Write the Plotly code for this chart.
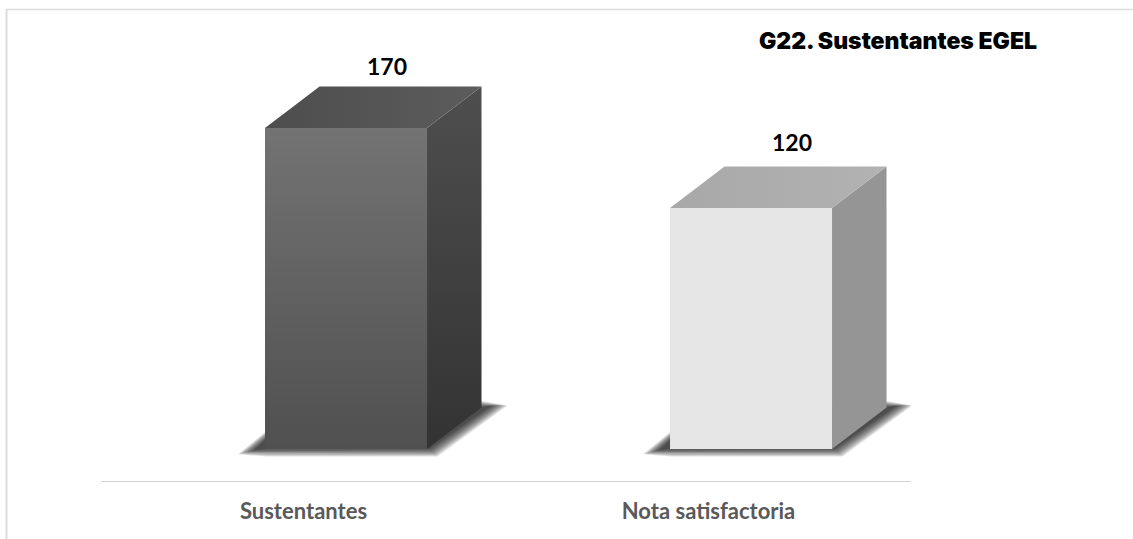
import plotly.graph_objects as go

categories = ["Sustentantes", "Nota satisfactoria"]
values = [170, 120]
title_text = "G22. Sustentantes EGEL"

W, H = 1133, 539
AX_L, AX_R, AX_BOT, AX_TOP = 101, 911, 481, 10
UX = 405.0        # px per category
UY = 1.6          # px per value unit
FLOOR = -30.6     # value at which the bars stand (perspective floor)
Y_MIN = -50.6
Y_MAX = 243.75
BAR_OFF = -0.095
BAR_W = 0.40
DX = 54.5 / UX    # depth of the 3D box
DY = 41.5 / UY
LABEL_GAP = [6, 10]

front_cols = [("#505050", "#737373"), ("#e6e6e6", "#e6e6e6")]
side_cols = [("#333333", "#4e4e4e"), ("#959595", "#959595")]
top_cols = [("#4d4d4d", "#5c5c5c"), ("#a8a8a8", "#b2b2b2")]
shadow_spread = [4.5, 3.5, 2.5, 1.5, 0.5, -0.5, -1.5, -2.5, -3.5]


def poly(x, y, col=None, grad=None, gtype="vertical"):
    kw = dict(x=x + x[:1], y=y + y[:1], mode="lines", fill="toself",
              line=dict(width=0), hoverinfo="skip", showlegend=False)
    if grad:
        kw["fillgradient"] = dict(type=gtype, colorscale=[[0, grad[0]], [1, grad[1]]])
        kw["fillcolor"] = grad[0]
    else:
        kw["fillcolor"] = col
    return go.Scatter(**kw)


fig = go.Figure()

fig.add_trace(go.Bar(
    x=list(range(len(values))), y=[v - FLOOR for v in values], base=FLOOR,
    width=BAR_W, offset=BAR_OFF,
    marker=dict(color=[c[1] for c in front_cols], line=dict(width=0)),
    hoverinfo="skip", showlegend=False))

for i, v in enumerate(values):
    x0 = i + BAR_OFF
    x1 = x0 + BAR_W
    # soft ground shadow: nested translucent shapes
    for g in shadow_spread:
        gx, gy = g / UX, g / UY
        sx = [x0 - 18 / UX - 2 * gx, x0 + 2 / UX, x1 + DX - 6 / UX,
              x1 + DX + 17 / UX + 2 * gx, x1 + 6 / UX + gx, x0 + 2 / UX]
        sy = [FLOOR - 3 / UY - 0.5 * gy, FLOOR + 14 / UY + gy, FLOOR + DY + 3 / UY + gy,
              FLOOR + DY + 2 / UY, FLOOR - 3 / UY - gy, FLOOR - 3 / UY - gy]
        fig.add_trace(poly(sx, sy, col="rgba(0,0,0,0.12)"))
    # front face gradient
    fig.add_trace(poly([x0, x1, x1, x0], [FLOOR, FLOOR, v, v], grad=front_cols[i]))
    # side face
    fig.add_trace(poly([x1, x1 + DX, x1 + DX, x1],
                       [FLOOR, FLOOR + DY, v + DY, v], grad=side_cols[i]))
    # top face
    fig.add_trace(poly([x0, x1, x1 + DX, x0 + DX],
                       [v, v, v + DY, v + DY], grad=top_cols[i], gtype="horizontal"))

# value labels
fig.add_trace(go.Scatter(
    x=[i + BAR_OFF + BAR_W / 2 + 41 / UX for i in range(len(values))],
    y=[v + DY + LABEL_GAP[i] / UY for i, v in enumerate(values)],
    mode="text", text=[str(v) for v in values], textposition="top center",
    textfont=dict(family="Lato", size=23, color="#000000", weight="bold"),
    hoverinfo="skip", showlegend=False))

frame = "#dcdcdc"
fig.update_layout(
    width=W, height=H,
    margin=dict(l=0, r=0, t=0, b=0),
    paper_bgcolor="#ffffff", plot_bgcolor="#ffffff",
    showlegend=False,
    title=dict(text=title_text, xref="paper", yref="paper",
               x=1037 / W, xanchor="right", y=1 - 41 / H, yanchor="middle",
               font=dict(family="Inter", size=23, color="#000000", weight=900)),
    xaxis=dict(domain=[AX_L / W, AX_R / W], range=[-0.5, 1.5],
               tickmode="array", tickvals=[0, 1], ticktext=categories,
               showgrid=False, zeroline=False, showline=True,
               linecolor="#d0d0d0", linewidth=1, ticks="",
               ticklabelstandoff=11,
               tickfont=dict(family="Lato", size=22, color="#595959", weight="bold")),
    yaxis=dict(domain=[1 - AX_BOT / H, 1 - AX_TOP / H], range=[Y_MIN, Y_MAX],
               visible=False),
    shapes=[
        dict(type="line", xref="paper", yref="paper", x0=6.5 / W, x1=6.5 / W,
             y0=0, y1=1 - 9 / H, line=dict(color=frame, width=2)),
        dict(type="line", xref="paper", yref="paper", x0=6 / W, x1=1,
             y0=1 - 9.5 / H, y1=1 - 9.5 / H, line=dict(color=frame, width=1.5)),
    ],
)

fig.write_html("out.html", config={"displayModeBar": False},
               post_script="document.body.style.margin='0';")
